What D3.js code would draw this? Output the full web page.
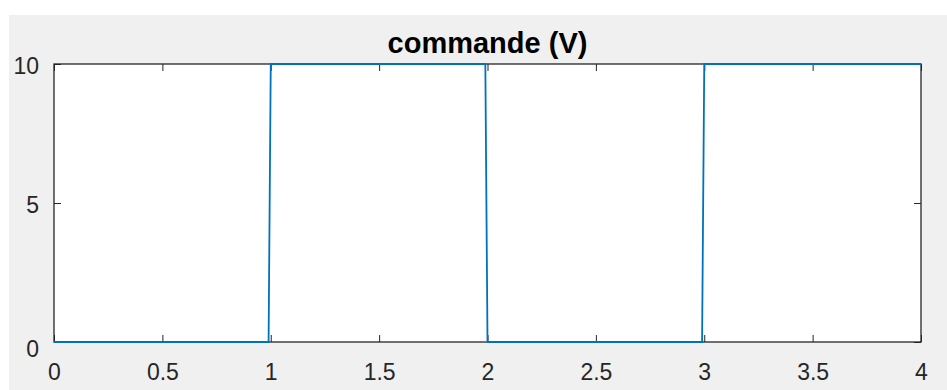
<!DOCTYPE html>
<html>
<head>
<meta charset="utf-8">
<script src="https://cdn.jsdelivr.net/npm/d3@7"></script>
<style>
  html, body { margin: 0; padding: 0; background: #fff; }
  svg { display: block; }
</style>
</head>
<body>
<div id="chart"></div>
<script>
// signal samples (square command, step 0.01)
const time = [0, 0.99, 1.0, 1.99, 2.0, 2.99, 3.0, 4.0];
const commande = [0, 0, 10, 10, 0, 0, 10, 10];
const xTicks = [0, 0.5, 1, 1.5, 2, 2.5, 3, 3.5, 4];
const yTicks = [0, 5, 10];
const title = 'commande (V)';

const width = 947, height = 390;
const margin = { top: 64, right: 26, bottom: 48, left: 54 };
const plotW = width - margin.left - margin.right;
const plotH = height - margin.top - margin.bottom;

const svg = d3.select('#chart').append('svg')
    .attr('width', width)
    .attr('height', height);

// figure background
svg.append('rect')
    .attr('x', 9).attr('y', 15)
    .attr('width', width - 9).attr('height', height - 15)
    .attr('fill', '#f0f0f0');

const g = svg.append('g')
    .attr('transform', `translate(${margin.left},${margin.top})`);

g.append('rect')
    .attr('width', plotW).attr('height', plotH)
    .attr('fill', '#fff');

const x = d3.scaleLinear().domain([0, 4]).range([0, plotW]);
const y = d3.scaleLinear().domain([0, 10]).range([plotH, 0]);

const axisColor = '#262626';
const font = 'Liberation Sans, Arial, Helvetica, sans-serif';

function styleAxis(sel, hideText) {
    sel.select('.domain').remove();
    sel.selectAll('.tick line').attr('stroke', axisColor).attr('stroke-width', 1);
    sel.selectAll('.tick text')
        .attr('fill', axisColor)
        .style('font-family', font)
        .style('font-size', '23px');
    if (hideText) sel.selectAll('.tick text').remove();
}

// MATLAB style: inward ticks on all four sides
g.append('g').attr('transform', `translate(0,${plotH})`)
    .call(d3.axisBottom(x).tickValues(xTicks).tickFormat(d3.format('')).tickSizeInner(-7).tickPadding(22))
    .call(s => styleAxis(s, false));
g.append('g')
    .call(d3.axisTop(x).tickValues(xTicks).tickSizeInner(-7))
    .call(s => styleAxis(s, true));
g.append('g')
    .call(d3.axisLeft(y).tickValues(yTicks).tickSizeInner(-7).tickPadding(15))
    .call(s => styleAxis(s, false))
    .call(s => s.selectAll('.tick text').attr('dy', d => d === 0 ? '0.62em' : '0.42em'));
g.append('g').attr('transform', `translate(${plotW},0)`)
    .call(d3.axisRight(y).tickValues(yTicks).tickSizeInner(-7))
    .call(s => styleAxis(s, true));

// box
g.append('rect')
    .attr('width', plotW).attr('height', plotH)
    .attr('fill', 'none')
    .attr('stroke', axisColor)
    .attr('stroke-width', 1.3);

const pts = time.map((t, i) => [t, commande[i]]);
g.append('path')
    .datum(pts)
    .attr('fill', 'none')
    .attr('stroke', '#0072bd')
    .attr('stroke-width', 1.8)
    .attr('d', d3.line().x(d => x(d[0])).y(d => y(d[1])));

svg.append('text')
    .attr('x', margin.left + plotW / 2)
    .attr('y', 53)
    .attr('text-anchor', 'middle')
    .attr('fill', '#000')
    .style('font-family', font)
    .style('font-weight', 'bold')
    .style('font-size', '29px')
    .text(title);
</script>
</body>
</html>
